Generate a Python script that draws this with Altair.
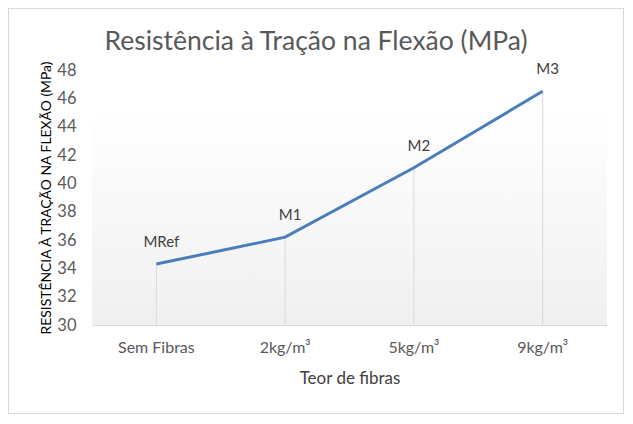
import altair as alt
import pandas as pd

categories = ["Sem Fibras", "2kg/m³", "5kg/m³", "9kg/m³"]
values = [34.3, 36.2, 41.1, 46.5]
point_labels = ["MRef", "M1", "M2", "M3"]
title_text = "Resistência à Tração na Flexão (MPa)"

df = pd.DataFrame({"cat": categories, "val": values, "lab": point_labels})

W, H = 515, 255
FONT = "Lato"

x = alt.X("cat:N", sort=categories, title="Teor de fibras",
          scale=alt.Scale(paddingInner=0, paddingOuter=0),
          axis=alt.Axis(labelAngle=0, ticks=False, domainColor="#d9d9d9",
                        labelPadding=14, titlePadding=15, labelFontSize=16,
                        titleFontSize=17, labelColor="#595959", titleColor="#404040",
                        labelFont=FONT, titleFont=FONT, titleFontWeight="normal"))
y = alt.Y("val:Q", title="RESISTÊNCIA À TRAÇÃO NA FLEXÃO (MPa)",
          scale=alt.Scale(domain=[30, 48], nice=False),
          axis=alt.Axis(values=list(range(30, 49, 2)), grid=False, domain=False, ticks=False,
                        labelPadding=16, titlePadding=3, labelFontSize=16.5,
                        titleFontSize=13.9, labelColor="#595959", titleColor="#000000",
                        labelFont=FONT, titleFont=FONT, titleFontWeight="normal"))

base = alt.Chart(df)

bg = base.mark_rect(
    color=alt.Gradient(gradient="linear", x1=0, y1=0, x2=0, y2=1,
                       stops=[alt.GradientStop(color="#ffffff", offset=0),
                              alt.GradientStop(color="#ffffff", offset=0.15),
                              alt.GradientStop(color="#f0f0f0", offset=1)])
).encode(x=alt.value(0), x2=alt.value(W), y=alt.value(0), y2=alt.value(H))

border = base.mark_rect(fill=None, stroke="#d9d9d9", strokeWidth=1, clip=False).encode(
    x=alt.value(-83.5), x2=alt.value(W + 16.5), y=alt.value(-61.5), y2=alt.value(H + 88.5))

title = alt.Chart(pd.DataFrame({"t": [title_text]})).mark_text(
    font=FONT, fontSize=26.5, color="#595959", align="center", baseline="alphabetic"
).encode(x=alt.value(224), y=alt.value(-20), text="t:N")

drops = base.mark_rule(color="#d9d9d9", strokeWidth=1).encode(
    x=x, y=y, y2=alt.datum(30))

line = base.mark_line(color="#4a7ebb", strokeWidth=3).encode(x=x, y=y)

text = base.mark_text(font=FONT, fontSize=15, color="#404040", dx=5, dy=-22).encode(
    x=x, y=y, text="lab:N")

chart = alt.layer(bg, border, title, drops, line, text).properties(
    width=W, height=H,
    autosize=alt.AutoSizeParams(type="none"),
    padding={"left": 84, "top": 62, "right": 17, "bottom": 89},
).configure_view(stroke=None)

chart.save("out.html", embed_options={"renderer": "svg", "actions": False})
